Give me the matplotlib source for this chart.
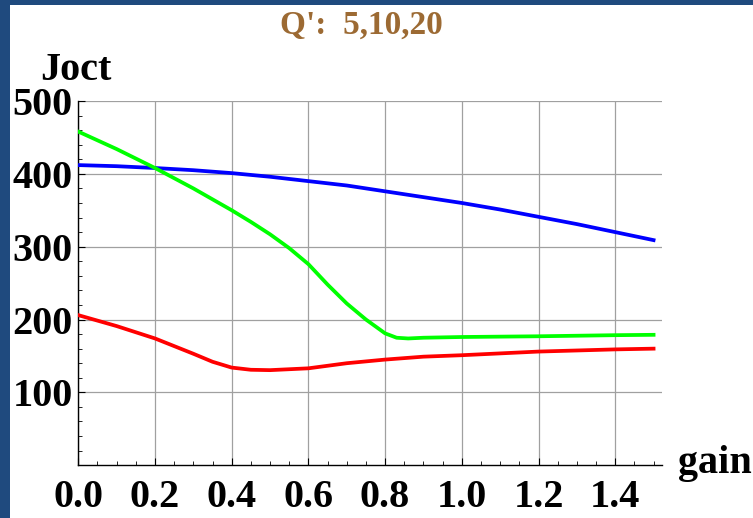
"""
Joct versus gain for Q' = 5, 10, 20
"""
import matplotlib
matplotlib.use('Agg')
import matplotlib.pyplot as plt
from matplotlib.patches import Rectangle
from matplotlib.ticker import MultipleLocator

# curve values read along gain
gain_blue = [0.0, 0.1, 0.2, 0.3, 0.4, 0.5, 0.6, 0.7, 0.8, 0.9, 1.0, 1.1, 1.2, 1.3, 1.4, 1.5]
joct_blue = [412, 410.5, 408, 405, 401, 396, 390, 384, 376, 368, 360, 351, 341, 331, 320, 309]

gain_green = [0.0, 0.1, 0.2, 0.3, 0.4, 0.45, 0.5, 0.55, 0.6, 0.65, 0.7, 0.75, 0.8, 0.83, 0.86,
              0.9, 1.0, 1.2, 1.4, 1.5]
joct_green = [458, 434, 408, 380, 350, 334, 317, 298, 276, 248, 222, 200, 181, 175, 174,
              175, 176, 177, 178.5, 179]

gain_red = [0.0, 0.1, 0.2, 0.3, 0.35, 0.4, 0.45, 0.5, 0.6, 0.7, 0.8, 0.9, 1.0, 1.1, 1.2, 1.3,
            1.4, 1.5]
joct_red = [206, 191, 174, 153, 142, 134, 131, 130.5, 133, 140, 145, 149, 151, 153.5, 156, 157.5,
            159, 160]

xticks = [0.0, 0.2, 0.4, 0.6, 0.8, 1.0, 1.2, 1.4]
yticks = [100, 200, 300, 400, 500]

W, H = 753, 518
serif = 'Liberation Serif'

fig = plt.figure(figsize=(W/100, H/100), dpi=100)
fig.patch.set_facecolor('white')

# dark frame on the left and top edges
fig.patches.append(Rectangle((0, 0), 10/W, 1, transform=fig.transFigure,
                             facecolor='#1f4a7e', edgecolor='none', zorder=0))
fig.patches.append(Rectangle((0, 1-5/H), 1, 5/H, transform=fig.transFigure,
                             facecolor='#1f4a7e', edgecolor='none', zorder=0))

ax = fig.add_axes([78.3/W, 1-465.2/H, (662-78.3)/W, (465.2-101)/H])
ax.set_xlim(0, 1.522)
ax.set_ylim(0, 500)

ax.plot(gain_blue, joct_blue, color='#0000ff', lw=2.7, zorder=3, solid_joinstyle='round')
ax.plot(gain_green, joct_green, color='#00ff00', lw=2.7, zorder=3, solid_joinstyle='round')
ax.plot(gain_red, joct_red, color='#ff0000', lw=2.7, zorder=3, solid_joinstyle='round')

for s in ['top', 'right']:
    ax.spines[s].set_visible(False)
for s in ['left', 'bottom']:
    ax.spines[s].set_linewidth(1.0)

ax.set_xticks(xticks)
ax.set_xticklabels(['%.1f' % v for v in xticks])
ax.set_yticks(yticks)
ax.set_yticklabels([str(v) for v in yticks])
ax.xaxis.set_minor_locator(MultipleLocator(0.05))
ax.yaxis.set_minor_locator(MultipleLocator(20))
ax.tick_params(which='major', direction='in', length=5, width=0.8)
ax.tick_params(which='minor', direction='in', length=3, width=0.6)
ax.tick_params(axis='x', which='major', pad=10)
ax.tick_params(axis='y', which='major', pad=4)
for lab in ax.get_xticklabels() + ax.get_yticklabels():
    lab.set_fontfamily(serif)
    lab.set_fontweight('bold')
    lab.set_fontsize(29)

ax.grid(True, which='major', color='#a0a0a0', lw=0.9)
ax.set_axisbelow(True)

fig.text(40/W, 1-80/H, 'Joct', fontfamily=serif, fontweight='bold', fontsize=29,
         ha='left', va='baseline')
fig.text(678/W, 1-473/H, 'gain', fontfamily=serif, fontweight='bold', fontsize=29,
         ha='left', va='baseline')
fig.text(361/W, 1-34/H, "Q':  5,10,20", fontfamily=serif, fontweight='bold', fontsize=24,
         color='#9c6a33', ha='center', va='baseline')

fig.savefig('out.png', dpi=100)
